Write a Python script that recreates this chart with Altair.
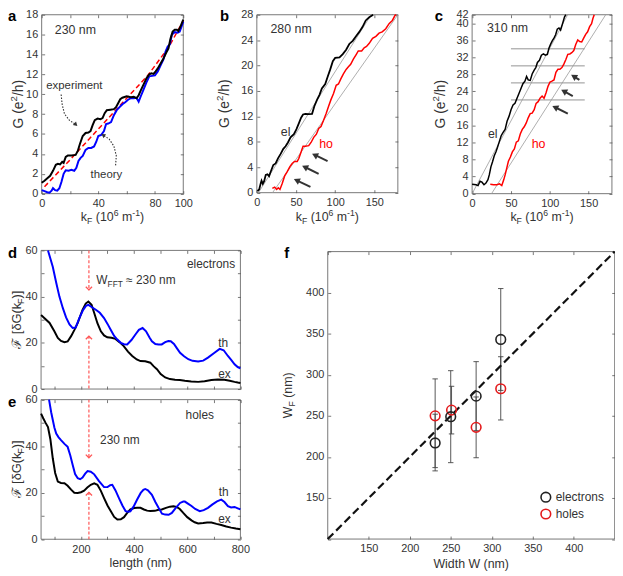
import math
import altair as alt
import pandas as pd

# ---------------- data ----------------
# panel a : G vs kF, W = 230 nm
a_k_exp = [0, 2, 4, 6, 8, 10, 11.5, 13, 14.5, 15.5, 17, 18.5, 21, 24, 25.5, 27, 29, 31, 33, 34.5, 36, 37.5, 39.5,
           41.5, 43, 44.5, 46, 48.5, 51, 52.5, 54, 55.5, 57, 60, 63, 65, 67, 68.5, 70, 72, 74, 76, 77.5, 79, 80.5,
           82, 84, 86, 88, 89.5, 91, 92.5, 94, 95.5, 96.5, 98, 100]
a_G_exp = [1.1, 1.3, 1.55, 1.8, 2.3, 2.9, 3.0, 2.95, 3.2, 3.1, 3.7, 3.85, 3.85, 3.9, 4.3, 5.0, 5.8, 6.1, 6.15, 6.3,
           6.9, 7.4, 7.55, 7.5, 7.6, 8.1, 8.4, 8.45, 8.5, 8.7, 9.1, 9.5, 9.65, 9.8, 9.7, 9.75, 9.6, 9.9, 10.4, 11.0,
           11.6, 12.0, 12.1, 12.05, 12.3, 12.6, 13.1, 13.6, 14.2, 14.6, 15.6, 16.3, 16.5, 16.5, 16.35, 16.8, 17.5]
a_k_th = [0, 2, 4, 5.5, 7, 8, 9.5, 11, 12.5, 14, 15.5, 17, 19, 21, 23, 24.5, 26, 27.5, 29, 31, 33, 35, 37, 38.5, 40,
          42, 44, 45.5, 47, 49, 51, 53, 55, 57, 59, 61, 63, 65, 67, 68.5, 70, 72, 74, 76, 78, 80, 82, 84, 86, 87.5,
          89, 90.5, 92, 94, 96, 97.5, 99, 100]
a_G_th = [0.35, 0.25, 0.15, 0.1, 0.3, 0.55, 0.35, 0.3, 0.55, 1.2, 2.0, 2.35, 2.3, 2.4, 2.3, 2.6, 3.3, 3.6, 3.8, 4.4,
          4.6, 4.6, 4.75, 5.2, 5.8, 5.9, 6.3, 7.0, 7.05, 7.2, 7.9, 8.4, 8.7, 9.0, 9.2, 9.45, 9.6, 9.6, 9.65, 9.25,
          9.8, 10.5, 11.2, 11.8, 11.85, 11.9, 12.3, 12.9, 13.5, 14.3, 14.8, 15.0, 16.0, 16.25, 16.2, 16.3, 16.9, 17.3]
a_k_lin = [2, 20, 40, 60, 75, 90, 100]
a_G_lin = [0.7, 3.4, 6.5, 9.6, 11.9, 14.8, 17.4]

# panel b : W = 280 nm
b_k_el = [0.8, 3, 5, 6, 7.6, 9.3, 11.4, 13.5, 15.6, 17.7, 21, 24, 27, 30.4, 33.8, 36.7, 39.7, 43, 47.3, 50.6, 53.6,
          56.5, 59, 62, 66, 70.5, 73.4, 76.8, 80, 83, 87.3, 90.3, 93.7, 97, 100, 105.5, 109.7, 114, 118, 122.4,
          126.6, 130.8, 135, 139, 143.5, 148.5]
b_G_el = [0.26, 0.5, 1.5, 1.9, 1.4, 1.8, 2.8, 2.9, 2.6, 3.3, 4.35, 4.6, 5.4, 6.1, 6.9, 7.3, 7.9, 8.7, 9.2, 10, 10.9,
          11.8, 12.3, 12.4, 12.35, 12.4, 13.6, 14.6, 15.4, 16.4, 17.1, 18.2, 19.4, 20.7, 21.2, 21.3, 21.8, 22.5,
          23.4, 23.9, 24.6, 25.3, 26.1, 27.1, 27.6, 28]
b_k_ho = [19.8, 22.8, 25.3, 27.4, 29.5, 32.5, 35.4, 38.8, 42.2, 45.1, 48, 51.5, 53.6, 56.5, 59, 62, 66.2, 69.2, 72.6,
          76, 79, 81.9, 85.2, 88.6, 91.6, 94.5, 97.9, 101.3, 104.2, 107.2, 110.5, 114, 116.9, 119.8, 123.2, 126.6,
          129.5, 133.8, 137, 140, 143.5, 147.7, 152, 156, 160, 164.6, 168.8, 173, 176.4, 178]
b_G_ho = [0.67, 0.87, 0.5, 0.77, 0.5, 1.5, 2.6, 3.3, 4.1, 4.6, 4.9, 4.9, 5.4, 6.4, 7.3, 7.3, 7.4, 7.9, 8.7, 9.2, 10.1,
          10.4, 11.4, 12.5, 13.6, 14.6, 15.6, 16.9, 17.1, 17.9, 18.7, 19.4, 19.8, 20.2, 21, 21.7, 22.3, 22.3, 22.8,
          23, 23.5, 24.3, 24.6, 25.1, 25.3, 25.8, 26.6, 27.1, 27.9, 28]
b_k_fit_el = [2, 146]
b_G_fit_el = [0, 28]
b_k_fit_ho = [20, 180]
b_G_fit_ho = [0, 28]
b_arrow_tail = [(68.4, 0.92), (78.9, 2.97), (90.3, 4.96)]
b_arrow_head = [(47.3, 2.15), (57.8, 4.25), (70.5, 6.14)]

# panel c : W = 310 nm
c_k_el = [0, 5.1, 7.6, 10.2, 12.7, 15.3, 17.8, 20.4, 22.1, 24.2, 26.3, 28.5, 30.6, 32.7, 34.8, 37.4, 39.9, 42.5, 45,
          47.6, 50.1, 52.7, 55.2, 57.8, 60.3, 62.9, 65.4, 68, 70.1, 72.2, 74.8, 77.3, 79.9, 82, 84.1, 86.7, 89.2,
          91.8, 94.3, 96.9, 99, 101.1, 103.3, 105.4, 107.5, 109.6, 111.8, 113.9, 116.4, 119, 120.7]
c_G_el = [2.2, 2.1, 1.9, 2.9, 2.7, 2.1, 2.5, 3.3, 4.4, 6.3, 7.5, 8.9, 9.8, 10.9, 12.1, 13.6, 14.4, 15.1, 17, 18.2,
          19.7, 20.8, 21.2, 22.4, 23.5, 24.7, 25.8, 26.4, 27.5, 26.7, 26.6, 28.1, 29, 29.6, 30.8, 31.3, 32.5, 32.8,
          32.5, 32.7, 34.2, 35.1, 35.9, 36.5, 37.3, 38.6, 38.9, 38.4, 39.9, 41.5, 42]
c_k_ho = [23.4, 27.6, 31.9, 35.3, 38.2, 40.8, 42.5, 44.6, 46.7, 49.3, 51.8, 54.4, 56.9, 59.5, 62, 64.6, 67.1, 69.7,
          72.2, 74.8, 77.3, 79.9, 82.4, 85, 87.5, 90.1, 92.6, 95.2, 97.7, 100.3, 102.8, 105.4, 107.9, 110.5, 113,
          115.6, 118.1, 120.7, 123.2, 125.8, 128.3, 130.9, 133.4, 136, 138.5, 141.1, 143.6, 146.2, 148.7, 151.3,
          153.8, 155.5, 157.2]
c_G_ho = [2.2, 2.1, 2.1, 2.3, 1.9, 3.3, 4.4, 6, 7.6, 8.6, 9.8, 10.5, 12.1, 12.4, 14, 15.1, 15.7, 16.6, 17.8, 18.8,
          18.9, 19.7, 21.2, 21.6, 22.4, 22.9, 22.4, 23.7, 25.2, 26.2, 26.4, 26.7, 28.5, 29.2, 29.2, 29.6, 30.4, 31.5,
          32.7, 32.8, 33.1, 33.6, 35, 36.1, 35.7, 35.6, 36.5, 37.4, 38, 39.2, 39.9, 41.1, 42]
c_k_fit_el = [0, 123]
c_G_fit_el = [0, 42]
c_k_fit_ho = [25, 172]
c_G_fit_ho = [0, 42]
c_levels = [22, 26, 30, 34]
c_level_k = [50, 145]
c_arrow_tail = [(138.1, 26.7), (129.6, 22.9), (123.2, 18.8)]
c_arrow_head = [(127.5, 27.9), (114.7, 24.4), (103.3, 20.6)]

# panel d : FFT, electrons
d_L_th = [76, 94, 107, 119, 132, 144, 157, 169, 180, 194, 207, 219, 228, 240, 256, 271, 287, 300, 312, 325, 337,
          350, 362, 374, 390, 405, 418, 432, 445, 458, 467, 480, 492, 504, 517, 529, 538, 550, 562, 573, 588, 604,
          620, 641, 660, 678, 700, 722, 737, 753, 766, 778, 790, 800]
d_F_th = [60, 52.9, 46, 40, 35, 31, 28, 26.4, 26.6, 30.7, 34, 36, 36.4, 35.5, 34.3, 33, 30.7, 28.2, 25.7, 23, 21.4,
          20, 19.4, 19.3, 21.2, 23.6, 25.6, 26.4, 25, 22.3, 20.7, 19.5, 19.3, 19.3, 20.3, 20.8, 20.7, 19.5, 17.5,
          15.7, 14.2, 12.9, 12.2, 11.9, 12.3, 13.6, 15.5, 17.4, 16.8, 14.3, 12.5, 10.7, 9.5, 8.9]
d_L_ex = [50, 60, 82, 100, 113, 125, 138, 150, 163, 175, 188, 206, 218, 228, 240, 250, 262, 275, 287, 299, 315, 330,
          345, 361, 377, 393, 410, 424, 442, 461, 474, 486, 500, 517, 535, 554, 572, 591, 615, 641, 665, 691, 715,
          740, 760, 778, 790, 800]
d_F_ex = [32, 31, 28.6, 25, 22.1, 20.8, 20.3, 20.6, 22.9, 25.5, 28.6, 34.3, 37, 37.9, 36.5, 32.9, 28.5, 25, 23.2,
          22.4, 22.2, 21.7, 20.3, 18.6, 16.2, 14.3, 12.8, 12.1, 12, 11.4, 9.8, 8.6, 6.5, 5, 4.3, 4, 3.9, 3.6, 3.3,
          3.1, 3.4, 3.9, 4.1, 4, 3.6, 3.1, 2.8, 2.6]

# panel e : FFT, holes
e_L_th = [80, 88, 100, 107, 116, 125, 138, 150, 160, 169, 178, 188, 197, 206, 216, 225, 237, 250, 268, 287, 300,
          310, 318, 330, 343, 356, 368, 377, 386, 398, 411, 425, 435, 442, 452, 467, 480, 492, 505, 517, 530, 542,
          557, 573, 585, 591, 604, 616, 630, 647, 662, 678, 695, 712, 728, 740, 753, 765, 778, 790, 800]
e_F_th = [60, 54.6, 48, 45.4, 43.8, 42.6, 41, 39.7, 36, 31.9, 28, 26.2, 25.8, 26.5, 28.2, 29.3, 29, 27.9, 25, 22.4,
          22.4, 23.2, 23.4, 21, 17.7, 14.5, 12.1, 11.8, 12, 14, 17, 19.9, 21.2, 21.6, 21, 19.1, 16, 13.5, 11, 10.6,
          10.5, 11.3, 13.5, 15.6, 16.2, 16.2, 15.2, 14.3, 13, 12.1, 12.5, 13.5, 15, 16.3, 17, 16, 14.2, 13.7, 13.9,
          13.3, 12.8]
e_L_ex = [50, 58, 67, 76, 85, 94, 103, 113, 125, 138, 150, 163, 175, 188, 200, 212, 224, 237, 250, 262, 275, 287,
          300, 312, 325, 337, 350, 362, 374, 386, 400, 412, 424, 437, 449, 461, 478, 492, 504, 520, 535, 548, 560,
          572, 585, 600, 616, 628, 641, 660, 675, 691, 710, 728, 747, 765, 783, 800]
e_F_ex = [54, 52, 50, 48.2, 43, 34.8, 28.5, 24.8, 24.2, 24.1, 23, 21.3, 20, 19.9, 20.2, 20.9, 22.2, 23.4, 24, 23.4,
          20.8, 17.7, 14.5, 12.1, 9.6, 8.5, 8.6, 9.5, 11.3, 12.8, 13.4, 13.5, 13.5, 12.8, 12.3, 12.1, 12.2, 12.7,
          12.8, 13.5, 14, 14.2, 13.9, 13, 11.3, 9.5, 8.1, 7.3, 6.8, 7, 7.2, 7.2, 6.6, 6.1, 5.5, 5, 4.6, 4.3]
fft_mark_L = 230

# panel f : W_F vs W
f_W_el = [231, 250, 281, 311]
f_WF_el = [217, 249, 274, 343]
f_lo_el = [183, 193, 232, 281]
f_hi_el = [252, 305, 316, 405]
f_W_ho = [231, 251, 281, 311]
f_WF_ho = [250, 257, 236, 283]
f_lo_ho = [187, 228, 199, 245]
f_hi_ho = [295, 286, 273, 322]
f_diag = [100, 450]

# ---------------- layout & style ----------------
VW, VH = 613, 567
FONT = "Liberation Sans"
TXT = "#333333"
AXC = "#555555"
BLUE = "#0000ff"
RED = "#ff0000"
BLACK = "#000000"
GREY = "#9a9a9a"

PANELS = {
    "a": dict(xd=(0, 100), yd=(0, 18), xr=(34, 177), yr=(184.7, 4.0)),
    "b": dict(xd=(0, 180), yd=(0, 28), xr=(251.3, 393.7), yr=(183.7, 4.0)),
    "c": dict(xd=(0, 180), yd=(0, 42), xr=(468.7, 609.9), yr=(184.7, 4.0)),
    "d": dict(xd=(50, 800), yd=(0, 60), xr=(33.4, 234.7), yr=(382, 242)),
    "e": dict(xd=(50, 800), yd=(0, 60), xr=(33.4, 234.7), yr=(533.7, 392.7)),
    "f": dict(xd=(100, 450), yd=(100, 450), xr=(322.9, 612.7), yr=(533.5, 243.2)),
}

ONE = pd.DataFrame({"v": [0]})
layers = []


def sx(p):
    P = PANELS[p]
    return alt.Scale(domain=list(P["xd"]), range=list(P["xr"]), nice=False, zero=False)


def sy(p):
    P = PANELS[p]
    return alt.Scale(domain=list(P["yd"]), range=list(P["yr"]), nice=False, zero=False)


def ppu(p):
    P = PANELS[p]
    return ((P["xr"][1] - P["xr"][0]) / (P["xd"][1] - P["xd"][0]),
            (P["yr"][1] - P["yr"][0]) / (P["yd"][1] - P["yd"][0]))


def XD(p, v):
    return alt.XDatum(v, type="quantitative", scale=sx(p), axis=None)


def YD(p, v):
    return alt.YDatum(v, type="quantitative", scale=sy(p), axis=None)


def line(p, xv, yv, color, width=1.8, dash=None, opacity=1.0):
    df = pd.DataFrame({"x": list(xv), "y": list(yv), "o": list(range(len(xv)))})
    kw = dict(color=color, strokeWidth=width, opacity=opacity)
    if dash:
        kw["strokeDash"] = dash
    layers.append(alt.Chart(df).mark_line(**kw).encode(
        x=alt.X("x:Q", scale=sx(p), axis=None),
        y=alt.Y("y:Q", scale=sy(p), axis=None),
        order="o:Q"))


def dtext(p, x, y, s, size=12, color=TXT, align="center", baseline="middle", weight="normal"):
    layers.append(alt.Chart(ONE).mark_text(text=s, font=FONT, fontSize=size, color=color, align=align,
                                           baseline=baseline, fontWeight=weight).encode(
        x=XD(p, x), y=YD(p, y)))


def ptext(x, y, s, size=12, color=TXT, align="left", baseline="alphabetic", weight="normal"):
    layers.append(alt.Chart(ONE).mark_text(text=s, font=FONT, fontSize=size, color=color, align=align,
                                           baseline=baseline, fontWeight=weight).encode(
        x=alt.value(x), y=alt.value(y)))


AW = {" ": .278, "(": .333, ")": .333, "[": .278, "]": .278, "/": .278, "-": .333,
      "G": .778, "F": .611, "W": .944, "T": .611, "e": .556, "h": .556, "k": .5,
      "m": .833, "n": .556, "l": .222, "g": .556, "t": .278, "i": .222, "d": .556,
      "δ": .556, "ℱ": .75, "≈": .584}


def rich(pieces, size, x, y, angle=0, color=TXT, anchor="center", panel=None, dy0=0.0):
    items = []
    for t, k in pieces:
        fs = size * (0.7 if k != "n" else 1.0)
        w = sum(AW.get(ch, 0.556) for ch in t) * fs
        items.append((t, k, fs, w))
    total = sum(i[3] for i in items)
    off = -total / 2 if anchor == "center" else 0.0
    for t, k, fs, w in items:
        lead = len(t) - len(t.lstrip(" "))
        txt = t.strip(" ")
        dy = dy0 + (0.25 * size if k == "sub" else (-0.4 * size if k == "sup" else 0.0))
        mk = alt.Chart(ONE).mark_text(text=txt, font=FONT, fontSize=fs, color=color, align="left",
                                      baseline="alphabetic", angle=angle, dx=off + lead * AW[" "] * fs, dy=dy)
        if panel:
            layers.append(mk.encode(x=XD(panel, x), y=YD(panel, y)))
        else:
            layers.append(mk.encode(x=alt.value(x), y=alt.value(y)))
        off += w


def arrow(p, pts, color=TXT, width=2.0, hsize=50, dash=None):
    fx, fy = ppu(p)
    (x1, y1), (x2, y2) = pts[-2], pts[-1]
    dxp, dyp = (x2 - x1) * fx, (y2 - y1) * fy
    n = math.hypot(dxp, dyp)
    ux, uy = dxp / n, dyp / n
    ang = math.degrees(math.atan2(ux, -uy)) % 360
    h = math.sqrt(hsize) / 2 * math.sqrt(3) / 2
    cx_, cy_ = x2 - h * ux / fx, y2 - h * uy / fy
    shaft = list(pts[:-1]) + [(cx_, cy_)]
    line(p, [q[0] for q in shaft], [q[1] for q in shaft], color, width=width, dash=dash)
    layers.append(alt.Chart(ONE).mark_point(shape="triangle-up", filled=True, size=hsize, angle=ang,
                                            color=color, opacity=1).encode(x=XD(p, cx_), y=YD(p, cy_)))


def symbol(p, x, y, shape, size, color, sw=1.3, opacity=1.0):
    layers.append(alt.Chart(ONE).mark_point(shape=shape, filled=False, size=size, color=color,
                                            strokeWidth=sw, opacity=opacity).encode(x=XD(p, x), y=YD(p, y)))


def axes(p, xt, yt, xlab=None, ylab=None):
    P = PANELS[p]
    x0, x1 = P["xr"]
    yb, ytop = P["yr"]
    tl = 3
    com = dict(grid=False, domain=False, ticks=True, tickSize=tl, tickColor=AXC, tickWidth=0.8,
               labelFont=FONT, labelFontSize=11, labelColor=TXT, title=None, labelFlush=False,
               labelOverlap=False, labelBound=False)

    def lexpr(vals):
        cond = " || ".join("datum.value == %s" % v for v in vals)
        return "(%s) ? datum.label : ''" % cond

    bkw = dict(orient="bottom", values=xt, offset=(yb - tl) - VH, labelPadding=4, **com)
    if xlab is False:
        bkw["labels"] = False
    elif xlab is not None:
        bkw["labelExpr"] = lexpr(xlab)
    lkw = dict(orient="left", values=yt, offset=-(x0 + tl), labelPadding=4, **com)
    if ylab is not None:
        lkw["labelExpr"] = lexpr(ylab)
    layers.append(alt.Chart(ONE).mark_point(opacity=0).encode(
        x=alt.X("v:Q", scale=sx(p), axis=alt.Axis(**bkw)),
        y=alt.Y("v:Q", scale=sy(p), axis=alt.Axis(**lkw))))
    tkw = dict(orient="top", values=xt, offset=-(ytop + tl), labels=False, **com)
    rkw = dict(orient="right", values=yt, offset=(x1 - tl) - VW, labels=False, **com)
    layers.append(alt.Chart(ONE).mark_point(opacity=0).encode(
        x=alt.X("v:Q", scale=sx(p), axis=alt.Axis(**tkw)),
        y=alt.Y("v:Q", scale=sy(p), axis=alt.Axis(**rkw))))
    layers.append(alt.Chart(ONE).mark_rect(fillOpacity=0, stroke=AXC, strokeWidth=0.8).encode(
        x=alt.value(x0), x2=alt.value(x1), y=alt.value(ytop), y2=alt.value(yb)))


def cx(p):
    return sum(PANELS[p]["xr"]) / 2


def cy(p):
    return sum(PANELS[p]["yr"]) / 2


G_TITLE = [("G (e", "n"), ("2", "sup"), ("/h)", "n")]
K_TITLE = [("k", "n"), ("F", "sub"), (" (10", "n"), ("6", "sup"), (" m", "n"), ("-1", "sup"), (")", "n")]
FFT_TITLE = [("ℱ [δG(k", "n"), ("F", "sub"), (")]", "n")]

# ---------------- panel a ----------------
axes("a", [0, 20, 40, 60, 80, 100], list(range(0, 19, 2)), xlab=[0, 40, 80, 100])
line("a", a_k_lin, a_G_lin, RED, width=1.5, dash=[5, 3])
line("a", a_k_th, a_G_th, BLUE, width=2.0)
line("a", a_k_exp, a_G_exp, BLACK, width=2.0)
dtext("a", 23.8, 16.5, "230 nm", size=12.5)
dtext("a", 23.1, 10.85, "experiment", size=11.5)
dtext("a", 45.7, 1.9, "theory", size=11.5)
arrow("a", [(13.75, 9.97), (14.45, 9.0), (16.1, 8.03), (19.6, 7.38), (23.8, 6.99), (25.2, 6.8)],
      width=1.1, hsize=22, dash=[1.5, 1.5])
arrow("a", [(52.2, 2.85), (52.7, 3.82), (51.0, 4.79), (47.6, 5.5), (44.05, 5.83), (42.2, 6.0)],
      width=1.1, hsize=22, dash=[1.5, 1.5])
rich(G_TITLE, 14, 15, cy("a"), angle=270)
rich(K_TITLE, 12.5, cx("a"), 212)
ptext(0, 10, "a", size=15, color=BLACK, weight="bold")

# ---------------- panel b ----------------
axes("b", [0, 50, 100, 150], list(range(0, 29, 4)))
line("b", b_k_fit_el, b_G_fit_el, GREY, width=0.8)
line("b", b_k_fit_ho, b_G_fit_ho, GREY, width=0.8)
line("b", b_k_el, b_G_el, BLACK, width=1.8)
line("b", b_k_ho, b_G_ho, RED, width=1.5)
for t, h in zip(b_arrow_tail, b_arrow_head):
    arrow("b", [t, h], width=2.0, hsize=50)
dtext("b", 43.7, 25.8, "280 nm", size=12.5)
dtext("b", 36.7, 9.5, "el", size=12.5)
dtext("b", 88.4, 7.7, "ho", size=12.5, color=RED)
rich(G_TITLE, 14, 223, cy("b"), angle=270)
rich(K_TITLE, 12.5, cx("b"), 212)
ptext(214, 10, "b", size=15, color=BLACK, weight="bold")

# ---------------- panel c ----------------
axes("c", [0, 50, 100, 150], list(range(0, 41, 4)) + [42])
for lv in c_levels:
    line("c", c_level_k, [lv, lv], "#777777", width=0.8)
line("c", c_k_fit_el, c_G_fit_el, GREY, width=0.8)
line("c", c_k_fit_ho, c_G_fit_ho, GREY, width=0.8)
line("c", c_k_el, c_G_el, BLACK, width=1.5)
line("c", c_k_ho, c_G_ho, RED, width=1.5)
for t, h in zip(c_arrow_tail, c_arrow_head):
    arrow("c", [t, h], width=2.0, hsize=50)
dtext("c", 45.6, 38.8, "310 nm", size=12.5)
dtext("c", 26.6, 14.1, "el", size=12.5)
dtext("c", 85.6, 11.7, "ho", size=12.5, color=RED)
rich(G_TITLE, 14, 441, cy("c"), angle=270)
rich(K_TITLE, 12.5, cx("c"), 212)
ptext(431, 10, "c", size=15, color=BLACK, weight="bold")

# ---------------- panel d ----------------
LRED = "#ff5555"
axes("d", list(range(100, 801, 100)), list(range(0, 61, 10)), xlab=False, ylab=[0, 20, 40, 60])
line("d", [fft_mark_L, fft_mark_L], [60, 42.8], LRED, width=1.2, dash=[3, 2])
line("d", [fft_mark_L, fft_mark_L], [23.0, 0], LRED, width=1.2, dash=[3, 2])
symbol("d", fft_mark_L, 43.6, "M-1,-0.5L0,0.5L1,-0.5", 40, LRED)
symbol("d", fft_mark_L, 22.2, "M-1,0.5L0,-0.5L1,0.5", 40, LRED)
line("d", d_L_ex, d_F_ex, BLACK, width=2.0)
line("d", d_L_th, d_F_th, BLUE, width=2.0)
dtext("d", 780, 53.9, "electrons", size=12, align="right")
rich([("W", "n"), ("FFT", "sub"), (" ≈ 230 nm", "n")], 12, 258, 47.4, anchor="left", panel="d", dy0=4.2)
dtext("d", 735, 20, "th", size=12)
dtext("d", 740, 6.7, "ex", size=12)
rich(FFT_TITLE, 13, 13, cy("d"), angle=270)
ptext(0, 250, "d", size=15, color=BLACK, weight="bold")

# ---------------- panel e ----------------
axes("e", list(range(100, 801, 100)), list(range(0, 61, 10)), xlab=[200, 400, 600, 800], ylab=[0, 20, 40, 60])
line("e", [fft_mark_L, fft_mark_L], [60, 34.9], LRED, width=1.2, dash=[3, 2])
line("e", [fft_mark_L, fft_mark_L], [20.3, 0], LRED, width=1.2, dash=[3, 2])
symbol("e", fft_mark_L, 35.7, "M-1,-0.5L0,0.5L1,-0.5", 40, LRED)
symbol("e", fft_mark_L, 19.5, "M-1,0.5L0,-0.5L1,0.5", 40, LRED)
line("e", e_L_ex, e_F_ex, BLACK, width=2.0)
line("e", e_L_th, e_F_th, BLUE, width=2.0)
dtext("e", 647, 53.2, "holes", size=12)
dtext("e", 272, 42.6, "230 nm", size=12, align="left")
dtext("e", 737, 20.1, "th", size=12)
dtext("e", 740, 8.5, "ex", size=12)
rich(FFT_TITLE, 13, 13, cy("e"), angle=270)
ptext(134, 562, "length (nm)", size=12.5, align="center")
ptext(0, 400, "e", size=15, color=BLACK, weight="bold")

# ---------------- panel f ----------------
axes("f", list(range(100, 451, 50)), list(range(100, 451, 50)),
     xlab=[150, 200, 250, 300, 350, 400], ylab=[150, 200, 250, 300, 350, 400])
eb = pd.DataFrame({"W": f_W_el + f_W_ho, "lo": f_lo_el + f_lo_ho, "hi": f_hi_el + f_hi_ho})
layers.append(alt.Chart(eb).mark_rule(color="#444444", strokeWidth=0.9).encode(
    x=alt.X("W:Q", scale=sx("f"), axis=None),
    y=alt.Y("lo:Q", scale=sy("f"), axis=None), y2="hi:Q"))
caps = pd.DataFrame({"W": (f_W_el + f_W_ho) * 2, "v": f_lo_el + f_lo_ho + f_hi_el + f_hi_ho})
layers.append(alt.Chart(caps).mark_point(shape="M-1,0L1,0", filled=False, size=30, color="#444444",
                                         strokeWidth=0.9, opacity=1).encode(
    x=alt.X("W:Q", scale=sx("f"), axis=None), y=alt.Y("v:Q", scale=sy("f"), axis=None)))
line("f", f_diag, f_diag, "#111111", width=2.2, dash=[8, 4])
pe = pd.DataFrame({"W": f_W_el, "v": f_WF_el})
ph = pd.DataFrame({"W": f_W_ho, "v": f_WF_ho})
for df, col in ((ph, "#e41a1c"), (pe, "#222222")):
    layers.append(alt.Chart(df).mark_point(shape="circle", filled=False, size=95, color=col,
                                           strokeWidth=1.6, opacity=1).encode(
        x=alt.X("W:Q", scale=sx("f"), axis=None), y=alt.Y("v:Q", scale=sy("f"), axis=None)))
symbol("f", 366, 151, "circle", 95, "#222222", sw=1.6)
symbol("f", 366, 130.5, "circle", 95, "#e41a1c", sw=1.6)
dtext("f", 378, 151, "electrons", size=12, align="left")
dtext("f", 378, 130.5, "holes", size=12, align="left")
rich([("W", "n"), ("F", "sub"), (" (nm)", "n")], 12.5, 286.5, cy("f"), angle=270)
ptext(cx("f"), 563, "Width W (nm)", size=12.5, align="center")
ptext(279, 250, "f", size=15, color=BLACK, weight="bold")

chart = alt.layer(*layers).resolve_scale(x="independent", y="independent").resolve_axis(
    x="independent", y="independent").properties(
    width=VW, height=VH, padding=0, autosize=alt.AutoSizeParams(type="none"), background="white"
).configure_view(stroke=None)

chart.save("out.html", embed_options={"renderer": "svg", "actions": False})
